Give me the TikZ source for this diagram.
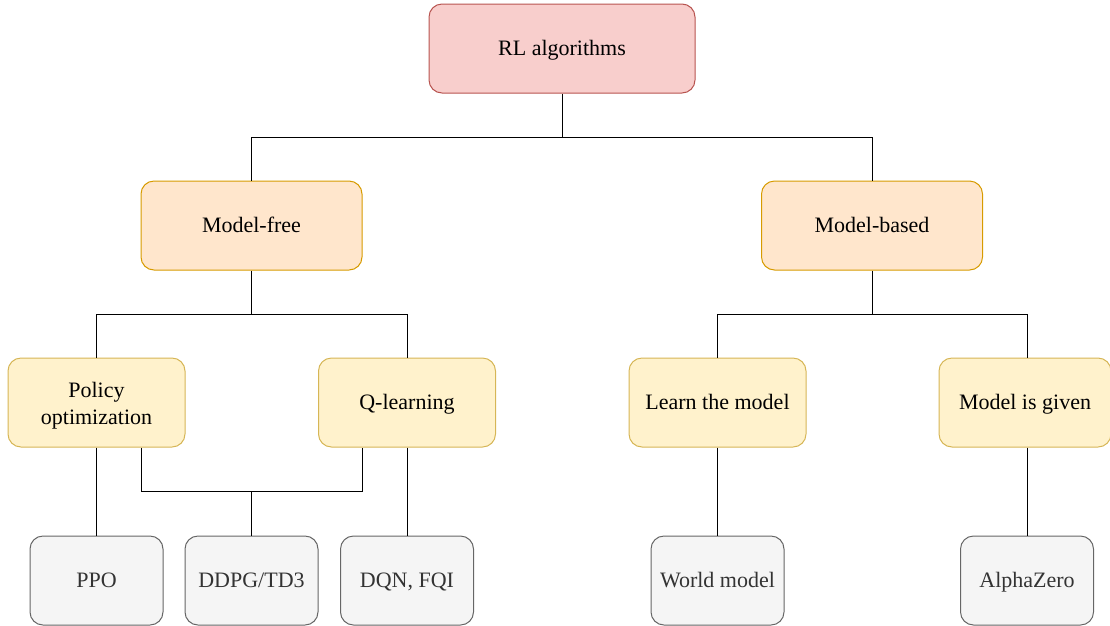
\documentclass[tikz,border=0pt]{standalone}
\usepackage{fontspec}
\setmainfont{LiberationSerif}[Extension=.ttf, UprightFont=*-Regular, BoldFont=*-Bold]
\definecolor{redfill}{HTML}{F8CECC}
\definecolor{redline}{HTML}{B85450}
\definecolor{orfill}{HTML}{FFE6CC}
\definecolor{orline}{HTML}{D79B00}
\definecolor{yefill}{HTML}{FFF2CC}
\definecolor{yeline}{HTML}{D6B656}
\definecolor{grfill}{HTML}{F5F5F5}
\definecolor{grline}{HTML}{666666}
\definecolor{grtext}{HTML}{333333}
\tikzset{
  box/.style={rectangle, rounded corners=13pt, line width=1pt, inner sep=0pt,
    minimum height=89pt, font=\fontsize{22}{27.5}\selectfont,
    text height=17pt, text depth=3pt},
  rootbox/.style={box, fill=redfill, draw=redline, minimum width=266pt},
  midbox/.style={box, fill=orfill, draw=orline, minimum width=221pt},
  subbox/.style={box, fill=yefill, draw=yeline, minimum width=177pt},
  leafbox/.style={box, fill=grfill, draw=grline, text=grtext, minimum width=133pt},
  conn/.style={line width=1pt, draw=black}
}
\begin{document}
\begin{tikzpicture}[x=1pt,y=-1pt]
\useasboundingbox (0,0) rectangle (1110,625);
\node[rootbox] (rl) at (562,48.5) {RL algorithms};
\node[midbox] (mf) at (251.5,225.5) {Model-free};
\node[midbox] (mb) at (872,225.5) {Model-based};
\node[subbox, text height=15pt, text depth=26pt] (po) at (96.5,402.5) {\begin{tabular}[t]{@{}c@{}}Policy\\optimization\end{tabular}};
\node[subbox] (ql) at (407,402.5) {Q-learning};
\node[subbox] (lm) at (717.5,402.5) {Learn the model};
\node[subbox, minimum width=172pt] (mg) at (1025,402.5) {Model is given};
\node[leafbox] (ppo) at (96.5,580.5) {PPO};
\node[leafbox] (ddpg) at (251.5,580.5) {DDPG/TD3};
\node[leafbox] (dqn) at (407,580.5) {DQN, FQI};
\node[leafbox] (wm) at (717.5,580.5) {World model};
\node[leafbox] (az) at (1027,580.5) {AlphaZero};

\coordinate (j1) at (562,137);
\coordinate (j2) at (251.5,314);
\coordinate (j3) at (872,314);
\coordinate (j4) at (251.5,491);

\draw[conn] (rl.south) -- (j1) -| (mf.north);
\draw[conn] (j1) -| (mb.north);
\draw[conn] (mf.south) -- (j2) -| (po.north);
\draw[conn] (j2) -| (ql.north);
\draw[conn] (mb.south) -- (j3) -| (lm.north);
\draw[conn] (j3) -| (az.north |- mg.north);
\draw[conn] (po.south) -- (ppo.north);
\draw[conn] ([xshift=44.5pt]po.south) |- (j4) -| ([xshift=-44.5pt]ql.south);
\draw[conn] (j4) -- (ddpg.north);
\draw[conn] (ql.south) -- (dqn.north);
\draw[conn] (lm.south) -- (wm.north);
\draw[conn] (az.north |- mg.south) -- (az.north);
\end{tikzpicture}
\end{document}
